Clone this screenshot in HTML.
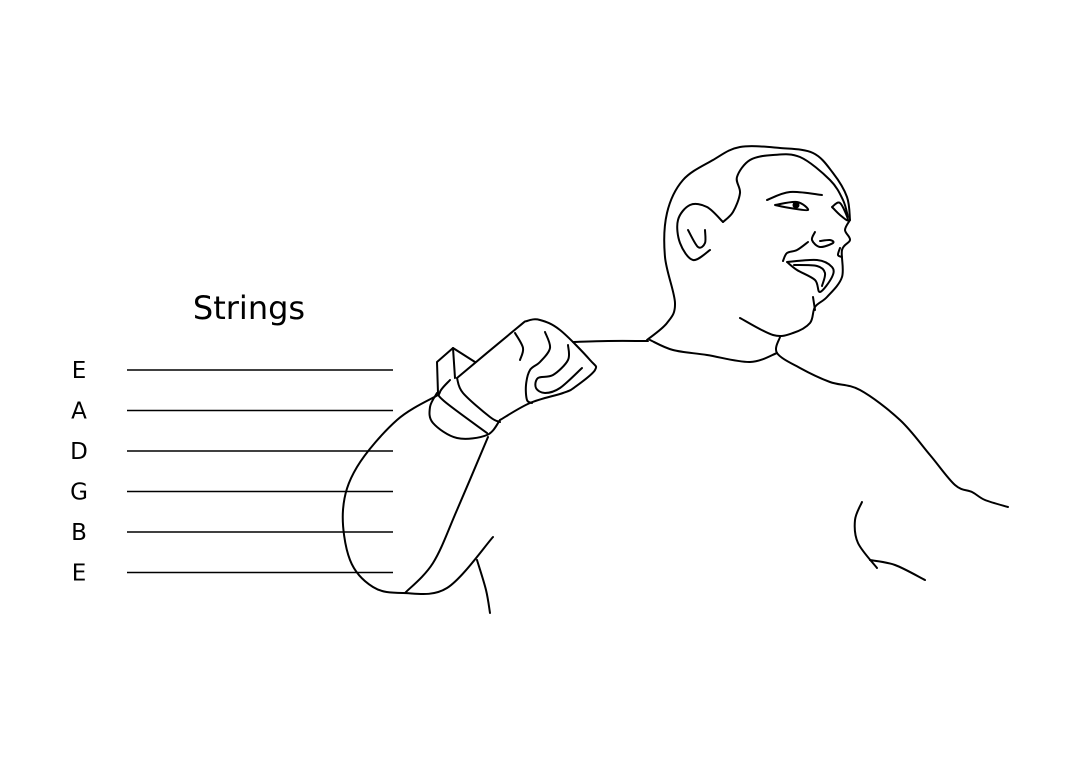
<!DOCTYPE html>
<html><head><meta charset="utf-8"><style>
html,body{margin:0;padding:0;background:#fff;}
svg{display:block;}
text{font-family:"DejaVu Sans","Liberation Sans",sans-serif;fill:#000;}
</style></head><body>
<svg id="s" width="1080" height="761" viewBox="0 0 1080 761">
<text x="249" y="319" font-size="32" text-anchor="middle">Strings</text>
<g id="strings"></g>
<g id="fig" fill="none" stroke="#000" stroke-width="2" stroke-linecap="round" stroke-linejoin="round"></g>
</svg>
<script>
const stringNames = ["E","A","D","G","B","E"];
const ns = "http://www.w3.org/2000/svg";
const sg = document.getElementById('strings');
stringNames.forEach((n,i)=>{
  const y = 370 + i*40.5;
  const t = document.createElementNS(ns,'text');
  t.setAttribute('x',79); t.setAttribute('y',y+8); t.setAttribute('font-size',23);
  t.setAttribute('text-anchor','middle');
  
  
  t.textContent = n; sg.appendChild(t);
  const l = document.createElementNS(ns,'line');
  l.setAttribute('x1',127); l.setAttribute('x2',393); l.setAttribute('y1',y); l.setAttribute('y2',y);
  l.setAttribute('stroke','#000'); l.setAttribute('stroke-width',1.6);
  
  
  sg.appendChild(l);
});
const straight = [
 [[475,362],[453,348],[437,362],[438,393]],
 [[453,348],[455,378]]
];
const paths = [
 [[573,342],[608,341],[648,341]],
 [[457,378],[517,328],[527,321],[540,320],[560,330],[590,360],[595,370],[575,387],[563,393],[530,403],[500,420]],
 [[437,393],[430,407],[433,423],[457,438],[487,435],[500,420]],
 [[457,378],[463,393],[490,417],[500,422]],
 [[450,380],[440,392],[444,401],[487,433]],
 [[488,437],[457,510],[433,563],[405,593]],
 [[438,395],[397,420],[357,467],[343,510],[350,560],[373,587],[403,593],[447,588],[493,537]],
 [[477,560],[486,590],[490,613]],
 [[515,333],[523,348],[520,360]],
 [[545,332],[550,348],[540,362],[530,370],[526,385],[527,400],[532,403]],
 [[568,345],[568,360],[553,375],[538,378],[536,388],[545,393],[560,388],[582,368]],
 [[647,340],[667,323],[675,303],[665,257],[667,213],[683,180],[713,160],[740,147],[780,148],[813,153],[833,173],[847,197],[850,220]],
 [[723,222],[733,212],[740,193],[737,177],[750,160],[773,155],[800,157],[830,180],[843,200],[848,217]],
 [[723,222],[707,207],[690,205],[678,220],[680,243],[693,260],[710,250]],
 [[688,230],[698,247],[705,243],[705,230]],
 [[850,220],[845,230],[850,240],[842,250],[842,277],[827,297],[815,307],[810,323],[793,333],[773,335],[740,318]],
 [[780,337],[777,353],[800,368],[830,382],[860,390],[900,420],[930,455],[955,485],[972,492],[985,500],[1008,507]],
 [[650,340],[673,350],[707,355],[750,362],[777,353]],
 [[767,200],[790,192],[822,195]],
 [[775,205],[797,202],[808,210],[790,208],[775,205]],
 [[832,207],[840,203],[848,220],[840,215],[832,207]],
 [[815,232],[812,240],[820,247],[833,243],[830,240],[820,241]],
 [[840,248],[838,255],[842,257]],
 [[783,261],[787,253],[797,250],[808,242]],
 [[787,262],[817,260],[832,267],[832,277],[820,292],[815,280],[797,270],[787,262]],
 [[794,265],[817,266],[825,273],[822,286]],
 [[813,297],[815,310]],
 [[862,502],[855,520],[858,543],[877,568]],
 [[870,560],[895,565],[925,580]]
];
function smooth(p){
  let d = `M${p[0][0]},${p[0][1]}`;
  for(let i=0;i<p.length-1;i++){
    const p0=p[Math.max(i-1,0)],p1=p[i],p2=p[i+1],p3=p[Math.min(i+2,p.length-1)];
    const c1=[p1[0]+(p2[0]-p0[0])/6,p1[1]+(p2[1]-p0[1])/6];
    const c2=[p2[0]-(p3[0]-p1[0])/6,p2[1]-(p3[1]-p1[1])/6];
    d+=` C${c1[0]},${c1[1]} ${c2[0]},${c2[1]} ${p2[0]},${p2[1]}`;
  }
  return d;
}
const fg=document.getElementById('fig');
paths.forEach(p=>{
  const e=document.createElementNS(ns,'path');
  e.setAttribute('d',smooth(p));
  
  
  fg.appendChild(e);
});
straight.forEach(p=>{
  const e=document.createElementNS(ns,'polyline');
  e.setAttribute('points',p.map(q=>q.join(',')).join(' '));
  
  
  fg.appendChild(e);
});
const pu=document.createElementNS(ns,'circle');
pu.setAttribute('cx',796);pu.setAttribute('cy',205);pu.setAttribute('r',2.5);pu.setAttribute('fill','#000');


fg.appendChild(pu);
</script>
</body></html>
